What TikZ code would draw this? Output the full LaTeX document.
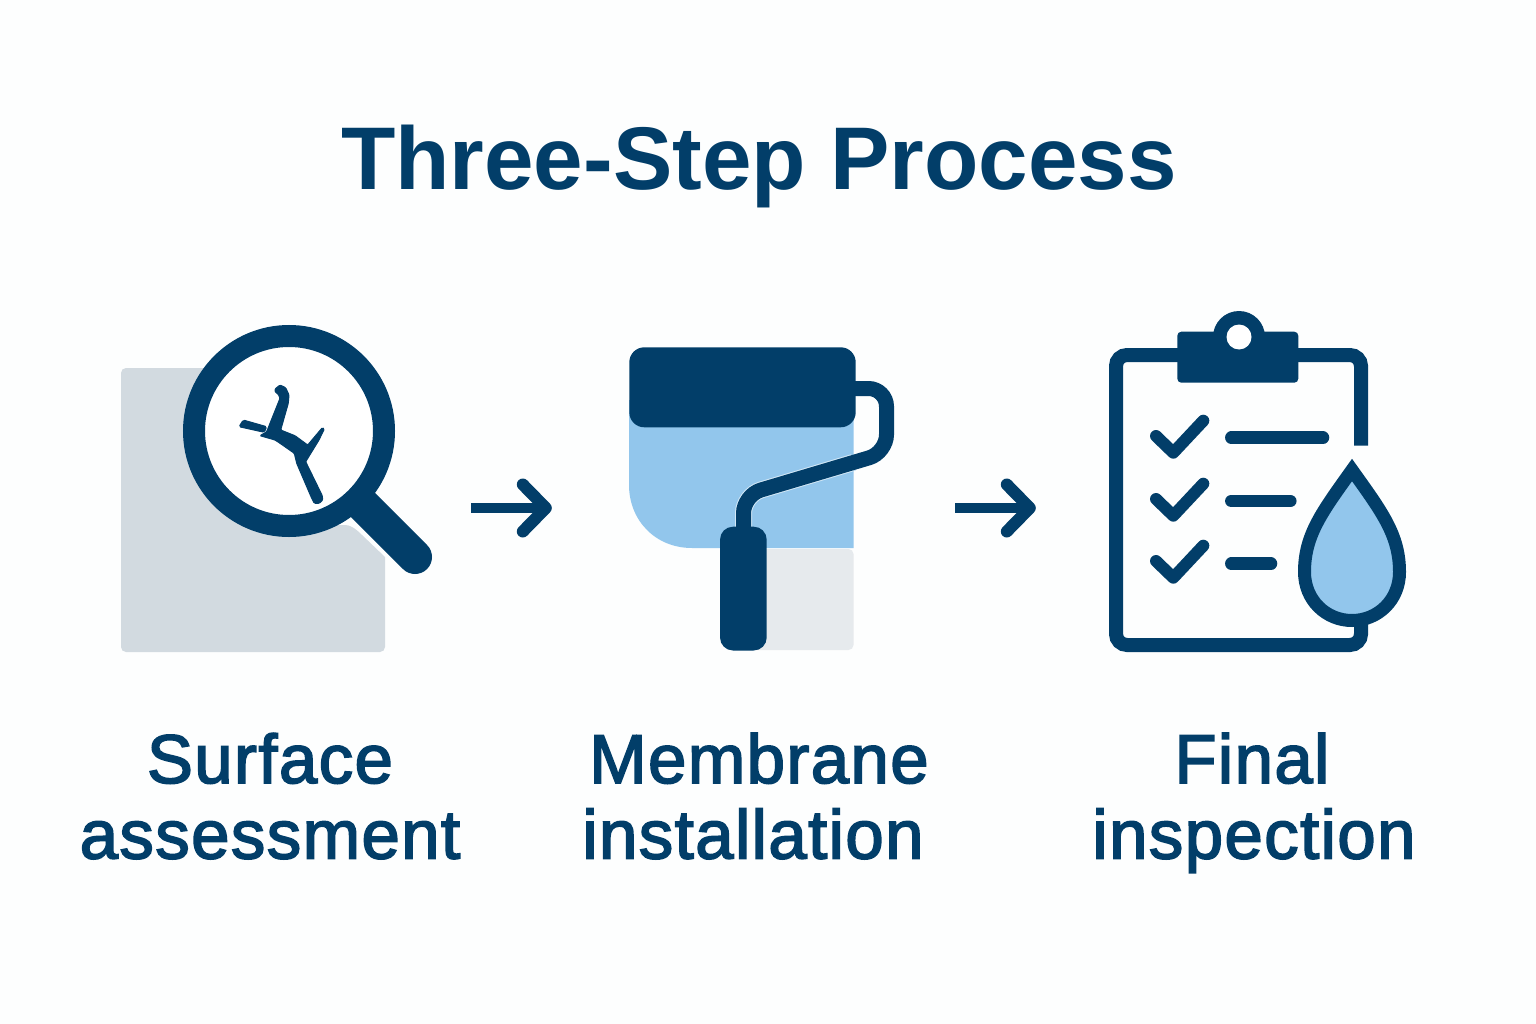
\documentclass[tikz,border=0pt]{standalone}
\usepackage{fontspec}
\setmainfont{Liberation Sans}
\newfontfamily\wordfont{Liberation Sans}[FakeBold=2.4, LetterSpace=2]
\usepackage{tikz}
\usetikzlibrary{arrows.meta}
\definecolor{navy}{HTML}{023E69}
\definecolor{sky}{HTML}{92C6EC}
\definecolor{slab}{HTML}{D2DAE0}
\definecolor{pale}{HTML}{E6EAED}
\definecolor{paper}{HTML}{FDFEFE}
\tikzstyle{titletext} = [text=navy, font=\fontsize{89}{89}\selectfont\bfseries, anchor=base, inner sep=0pt]
\tikzstyle{stepword} = [text=navy, font=\fontsize{69}{69}\selectfont\wordfont, anchor=base, inner sep=0pt]
\tikzstyle{iconbox} = [minimum height=300pt, inner sep=0pt]
\tikzstyle{arrow} = [navy, line width=10pt, -{Straight Barb[length=23pt, width=47pt, line width=12pt, round]}]
\tikzstyle{outline} = [navy, line width=14pt, rounded corners=11pt]
\tikzstyle{tick} = [navy, line width=12pt, line cap=round, line join=round]
\tikzstyle{rowline} = [navy, line width=12.5pt, line cap=round]

\begin{document}
\begin{tikzpicture}[x=1pt, y=-1pt]
\useasboundingbox (0,0) rectangle (1536,1024);
\fill [paper] (0,0) rectangle (1536,1024);
\node (title) [titletext] at (759,190) {Three-Step Process};
\node (assess) [iconbox, minimum width=351pt] at (295.5,508) {};
\node (install) [iconbox, minimum width=403pt] at (753.5,508) {};
\node (inspect) [iconbox, minimum width=374pt] at (1223,508) {};
\node (surface) [stepword] at (270,783) {Surface};
\node (assessment) [stepword] at (270,858.5) {assessment};
\node (membrane) [stepword] at (759,783) {Membrane};
\node (installation) [stepword] at (753,858.5) {installation};
\node (final) [stepword] at (1252,783) {Final};
\node (inspection) [stepword] at (1254,858.5) {inspection};
\draw [arrow] (assess) -- (install);
\draw [arrow] (install) -- (inspect);
\fill [slab, rounded corners=5pt] (121,368) -- (230,368) -- (300,440) -- (330,525) -- (340,525) [sharp corners] .. controls (350,525) and (355,528) .. (362,535) -- (385,557) [rounded corners=5pt] -- (385,652) -- (121,652) -- cycle;
\draw [navy, fill=white, line width=22pt] (289,431) circle (95pt);
\draw [navy, line width=34pt, line cap=round] (362,504) -- (415,557);
\draw [navy, fill=navy, line width=1pt, rounded corners=1pt] (275,389) -- (280,385) -- (285.7,387.7) -- (289,395) -- (288.3,403.3) -- (280.7,430) -- (295,435.7) -- (307.7,445) -- (322.3,427.7) -- (324.3,429) -- (319,440) -- (305.7,461.7) -- (322.3,495.7) -- (322.7,500) -- (319.3,503.3) -- (314.3,503.3) -- (311,496.7) -- (296.7,463.3) -- (294.3,453.3) -- (280,443.3) -- (275,440) -- (260,435.7) -- (266.7,431.7) -- (270,423.3) -- (280,398.3) -- (278.3,394.3) -- (275,391.7) -- cycle;
\draw [navy, fill=navy, line width=1pt, rounded corners=1.5pt] (239,426.7) -- (243.3,420) -- (266.7,426.7) -- (264.3,432.3) -- cycle;
\fill [sky] (629,400) -- (853.5,400) -- (853.5,548) -- (692,548) .. controls (655,548) and (629,520) .. (629,485) -- cycle;
\fill [pale, rounded corners=5pt] (750,549) -- (853.5,549) -- (853.5,650) -- (750,650) -- cycle;
\draw [white!60!sky, line width=17pt, rounded corners=18pt] (853.5,462.4) -- (743.5,495.2) -- (743.5,535);
\draw [navy, line width=15pt, rounded corners=18pt] (850,388.5) -- (886.5,388.5) -- (886.5,452.6) -- (743.5,495.2) -- (743.5,535);
\fill [navy, rounded corners=15pt] (629.3,347.3) rectangle (855.7,427.3);
\fill [navy, rounded corners=13pt] (720,526.7) rectangle (766.7,650.5);
\draw [outline] (1361,445.7) -- (1361,355) -- (1116,355) -- (1116,645) -- (1361,645) -- (1361,620);
\fill [navy, rounded corners=4pt] (1177.3,331.7) rectangle (1298.3,382.7);
\fill [navy] (1239,337) circle (26pt);
\fill [white] (1239,337) circle (12.5pt);
\foreach \ticky in {0,63,125} {
\draw [tick] (1156,436+\ticky) -- (1173.3,452.7+\ticky) -- (1203.3,420.7+\ticky);
}
\draw [rowline] (1231.3,437.7) -- (1323,437.7);
\draw [rowline] (1231.3,501) -- (1290.3,501);
\draw [rowline] (1231.3,563.7) -- (1271,563.7);
\draw [navy, fill=sky, line width=13pt, miter limit=10] (1352,470) .. controls (1382,512) and (1399.5,535) .. (1399.5,572) .. controls (1399.5,600) and (1378,620.5) .. (1352,620.5) .. controls (1326,620.5) and (1304.5,600) .. (1304.5,572) .. controls (1304.5,535) and (1322,512) .. (1352,470) -- cycle;
\end{tikzpicture}
\end{document}
